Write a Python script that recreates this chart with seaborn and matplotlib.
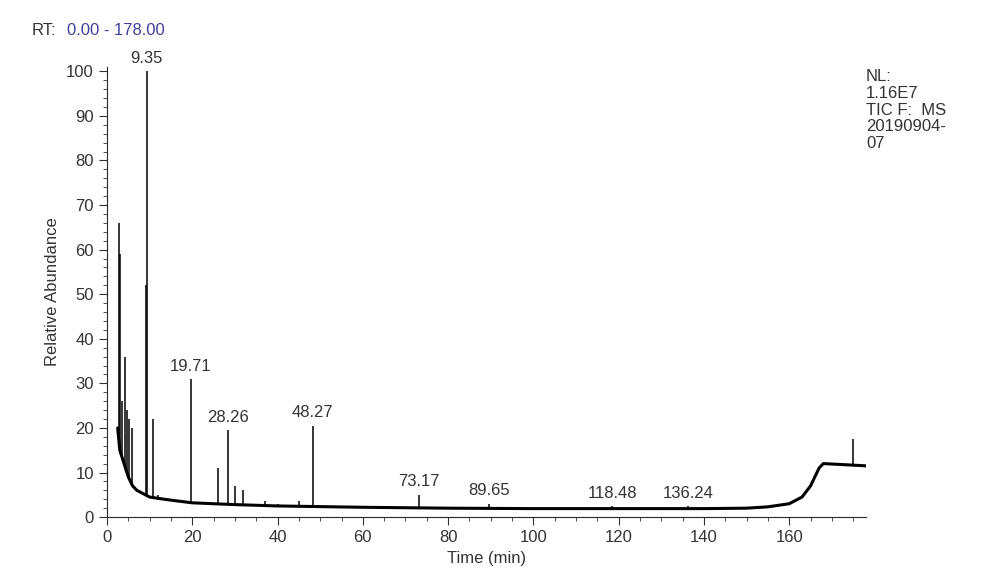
import numpy as np
import matplotlib
matplotlib.use('Agg')
import matplotlib.pyplot as plt
import seaborn as sns
from matplotlib.ticker import MultipleLocator

# baseline of the total ion chromatogram (time min, relative abundance)
base_t = [2.5, 3, 4, 5, 6, 7, 8, 9, 10, 12, 15, 20, 25, 30, 40, 60, 80, 100, 120,
          140, 150, 155, 160, 163, 165, 167, 168, 172, 178]
base_y = [20, 15, 12, 9, 7, 6, 5.5, 5, 4.5, 4.2, 3.8, 3.2, 3.0, 2.8, 2.5, 2.2, 2.0, 1.9, 1.9,
          1.9, 2.0, 2.3, 3.0, 4.5, 7, 11, 12, 11.8, 11.5]

# peaks
peak_t = [2.8, 3.0, 3.6, 4.3, 4.8, 5.2, 5.8, 9.2, 9.35, 10.9, 12, 19.71, 26, 28.26, 30, 32,
          37, 40, 45, 48.27, 73.17, 89.65, 118.48, 136.24, 175]
peak_y = [66, 59, 26, 36, 24, 22, 20, 52, 100, 22, 5, 31, 11, 19.5, 7, 6,
          3.5, 3, 3.5, 20.5, 5, 3, 2.5, 2.5, 17.5]

label_t = [9.35, 19.71, 28.26, 48.27, 73.17, 89.65, 118.48, 136.24]
label_y = [100, 31, 19.5, 20.5, 5, 3, 2.5, 2.5]

sns.set_style('ticks')
plt.rcParams['font.family'] = ['Liberation Sans', 'DejaVu Sans']

fig = plt.figure(figsize=(10, 5.81), dpi=100)
ax = fig.add_axes([0.107, 0.11, 0.759, 0.775])

sns.lineplot(x=base_t, y=base_y, ax=ax, color='black', lw=2.2)
pk_base = np.interp(peak_t, base_t, base_y)
ax.vlines(peak_t, pk_base, peak_y, color='black', lw=1.1)

for t, y in zip(label_t, label_y):
    ax.text(t, y + 1.2, f'{t:.2f}', ha='center', va='bottom', fontsize=12, color='#333333')

ax.set_xlim(0, 178)
ax.set_ylim(0, 101)
ax.xaxis.set_major_locator(MultipleLocator(20))
ax.xaxis.set_minor_locator(MultipleLocator(5))
ax.yaxis.set_major_locator(MultipleLocator(10))
ax.yaxis.set_minor_locator(MultipleLocator(2))
ax.tick_params(which='both', direction='out', labelsize=12, colors='#333333')
ax.tick_params(which='major', length=6)
ax.tick_params(which='minor', length=3)
sns.despine(ax=ax)
ax.set_xlabel('Time (min)', fontsize=12, color='#333333')
ax.set_ylabel('Relative Abundance', fontsize=12, color='#333333')

fig.text(0.032, 0.94, 'RT:', fontsize=12, color='#333333')
fig.text(0.067, 0.94, '0.00 - 178.00', fontsize=12, color='#4040a0')
fig.text(0.866, 0.745, 'NL:\n1.16E7\nTIC F:  MS\n20190904-\n07', fontsize=12,
         color='#333333', linespacing=1.15)

fig.savefig('out.png', dpi=100)
